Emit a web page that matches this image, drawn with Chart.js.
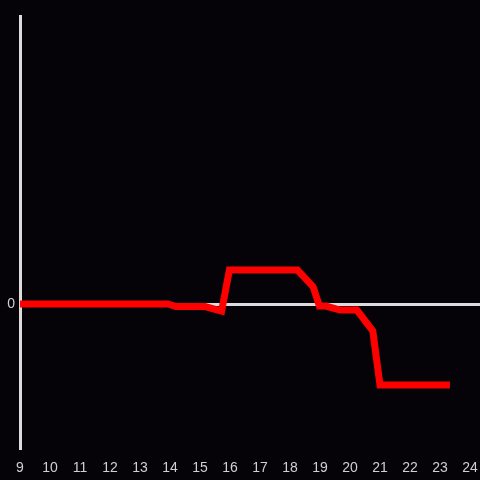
<!DOCTYPE html>
<html>
<head>
<meta charset="utf-8">
<script src="https://cdn.jsdelivr.net/npm/chart.js@4/dist/chart.umd.min.js"></script>
<style>
html,body{margin:0;padding:0;background:#050307;}
canvas{display:block;}
</style>
</head>
<body>
<canvas id="c" width="480" height="480"></canvas>
<script>
// Data
const hours  = [9, 13.93, 14.2, 15.17, 15.72, 15.98, 18.25, 18.77, 18.98, 19.2, 19.67, 20.23, 20.76, 21.0, 23.33];
const values = [0, 0, -0.018, -0.018, -0.05, 0.236, 0.236, 0.12, -0.014, -0.014, -0.042, -0.042, -0.1875, -0.5625, -0.5625];
const xTicks = [9,10,11,12,13,14,15,16,17,18,19,20,21,22,23,24];
const yTicks = [0];

const points = hours.map((h, i) => ({x: h, y: values[i]}));

new Chart(document.getElementById('c'), {
  type: 'line',
  data: {
    datasets: [{
      data: points,
      borderColor: '#ff0000',
      borderWidth: 7,
      borderCapStyle: 'butt',
      borderJoinStyle: 'miter',
      pointRadius: 0,
      tension: 0,
      fill: false
    }]
  },
  options: {
    responsive: false,
    animation: false,
    layout: {padding: {top: 16, left: 0, right: 0, bottom: 0}},
    plugins: {legend: {display: false}, tooltip: {enabled: false}},
    scales: {
      x: {
        type: 'linear',
        min: 9,
        max: 9 + 460/30,
        afterBuildTicks: s => { s.ticks = xTicks.map(v => ({value: v})); },
        afterFit: s => { s.height = 32; s.paddingRight = 0; s.paddingLeft = 0; },
        grid: {display: false},
        border: {display: false},
        ticks: {color: '#d0d0d0', font: {family: 'Liberation Sans', size: 14}, padding: 4, maxRotation: 0, autoSkip: false}
      },
      y: {
        type: 'linear',
        min: -1,
        max: 2,
        afterBuildTicks: s => { s.ticks = yTicks.map(v => ({value: v})); },
        afterFit: s => { s.width = 20; },
        grid: {display: true, drawTicks: false, color: '#dcdcdc', lineWidth: 3},
        border: {display: true, color: '#dcdcdc', width: 3},
        ticks: {color: '#d0d0d0', font: {family: 'Liberation Sans', size: 14}, padding: 5}
      }
    }
  }
});
</script>
</body>
</html>
